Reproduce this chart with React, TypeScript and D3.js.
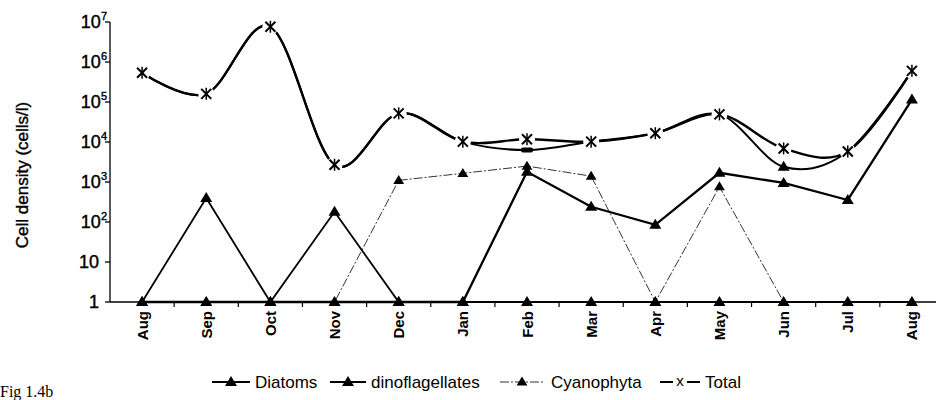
import React from "react";
import * as d3 from "d3";

const months = ["Aug", "Sep", "Oct", "Nov", "Dec", "Jan", "Feb", "Mar", "Apr", "May", "Jun", "Jul", "Aug"];
const diatoms = [1, 1, 1, 1, 1, 1, 1800, 240, 85, 1700, 950, 355, 115000];
const dinoflagellates = [1, 400, 1, 180, 1, 1, 1, 1, 1, 1, 1, 1, 1];
const cyanophyta = [1, 1, 1, 1, 1100, 1650, 2500, 1400, 1, 760, 1, 1, 1];
const total = [540000, 160000, 7600000, 2700, 52000, 10200, 11700, 10200, 16600, 49000, 6900, 5800, 600000];
const totalAlt = [540000, 160000, 7600000, 2700, 52000, 10200, 6300, 10200, 16600, 49000, 2400, 5800, 600000];
const totalAltMarkers = [null, null, null, null, null, null, "dash", null, null, null, "triangle", null, null];
const yTicks = [1, 10, 100, 1000, 10000, 100000, 1000000, 10000000];
const legendItems = ["Diatoms", "dinoflagellates", "Cyanophyta", "Total"];

const W = 936;
const H = 400;
const left = 110;
const right = 944;
const top = 22;
const bottom = 302;

const x = d3.scaleBand<number>().domain(d3.range(months.length)).range([left, right]).padding(0);
const y = d3.scaleLog().domain([1, 1e7]).range([bottom, top]);
const cx = (i: number) => (x(i) as number) + x.bandwidth() / 2;

const font = "Arial, 'Liberation Sans', sans-serif";
const narrow = "'Liberation Sans Narrow', 'Arial Narrow', Arial, 'Liberation Sans', sans-serif";

function Tri({ px, py, s = 1 }: { px: number; py: number; s?: number }) {
  const h = 10 * s;
  const w = 12 * s;
  return <path d={`M${px},${py - h * 0.6}L${px + w / 2},${py + h * 0.4}L${px - w / 2},${py + h * 0.4}Z`} fill="#000" />;
}

function Star({ px, py }: { px: number; py: number }) {
  const r = 5;
  return (
    <g stroke="#000" strokeWidth={2}>
      <line x1={px - r} y1={py - r} x2={px + r} y2={py + r} />
      <line x1={px - r} y1={py + r} x2={px + r} y2={py - r} />
      <line x1={px} y1={py - r - 1} x2={px} y2={py + r + 1} strokeWidth={1.5} />
    </g>
  );
}

export default function App() {
  const straight = d3.line<number>().x((_, i) => cx(i)).y((v) => y(v));
  const smooth = d3
    .line<number>()
    .x((_, i) => cx(i))
    .y((v) => y(v))
    .curve(d3.curveCardinal.tension(0));

  const supDigits = ["", "", "2", "3", "4", "5", "6", "7"];

  return (
    <svg width={W} height={H} style={{ position: "absolute", left: 0, top: 0, background: "#fff" }} fontFamily={font}>
      <rect width={W} height={H} fill="#fff" />
      {/* y axis */}
      <line x1={left} y1={top} x2={left} y2={bottom} stroke="#000" strokeWidth={1.3} />
      {yTicks.map((t, i) => (
        <g key={i}>
          <line x1={left - 5} x2={left} y1={y(t)} y2={y(t)} stroke="#000" strokeWidth={1.3} />
          <text x={i < 2 ? left - 11 : left - 3} y={y(t) + 6} textAnchor="end" fontSize={18} stroke="#000" strokeWidth={0.4}>
            {i === 0 ? "1" : i === 1 ? "10" : (
              <>
                10
                <tspan dy={-8} fontSize={11}>{supDigits[i]}</tspan>
              </>
            )}
          </text>
        </g>
      ))}
      {/* x axis */}
      <line x1={left} y1={bottom} x2={W} y2={bottom} stroke="#000" strokeWidth={1.3} />
      {d3.range(months.length).map((i) => (
        <line key={i} x1={(x(i) as number) + x.bandwidth()} x2={(x(i) as number) + x.bandwidth()} y1={bottom} y2={bottom + 5} stroke="#000" strokeWidth={1.2} />
      ))}
      {months.map((m, i) => (
        <text key={i} transform={`translate(${cx(i) + 5.5},${bottom + 9}) rotate(-90)`} textAnchor="end" fontSize={15} fontWeight={700}>
          {m}
        </text>
      ))}
      <text transform={`translate(28,175) rotate(-90)`} textAnchor="middle" fontSize={17} stroke="#000" strokeWidth={0.4}>
        Cell density (cells/l)
      </text>

      {/* series lines */}
      <path d={straight(cyanophyta) || ""} fill="none" stroke="#333" strokeWidth={1} strokeDasharray="9,2,2,2" />
      <path d={straight(dinoflagellates) || ""} fill="none" stroke="#000" strokeWidth={1.8} />
      <path d={straight(diatoms) || ""} fill="none" stroke="#000" strokeWidth={2.3} />
      <path d={smooth(totalAlt) || ""} fill="none" stroke="#000" strokeWidth={2} />
      <path d={smooth(total) || ""} fill="none" stroke="#000" strokeWidth={2.4} />

      {/* gaps around total markers */}
      {total.map((v, i) => (
        <circle key={i} cx={cx(i)} cy={y(v)} r={8} fill="#fff" />
      ))}

      {/* markers */}
      {cyanophyta.map((v, i) => <Tri key={"c" + i} px={cx(i)} py={y(v)} s={0.9} />)}
      {dinoflagellates.map((v, i) => <Tri key={"d" + i} px={cx(i)} py={y(v)} />)}
      {diatoms.map((v, i) => <Tri key={"a" + i} px={cx(i)} py={y(v)} />)}
      {totalAlt.map((v, i) =>
        totalAltMarkers[i] === "dash" ? (
          <rect key={"t" + i} x={cx(i) - 6} y={y(v) - 2.5} width={12} height={5} rx={2} fill="#000" />
        ) : totalAltMarkers[i] === "triangle" ? (
          <Tri key={"t" + i} px={cx(i)} py={y(v)} />
        ) : null
      )}
      {total.map((v, i) => <Star key={"s" + i} px={cx(i)} py={y(v)} />)}

      {/* legend */}
      <g fontSize={17} fontFamily={narrow}>
        <line x1={212} x2={250} y1={382} y2={382} stroke="#000" strokeWidth={2} />
        <Tri px={231} py={382} />
        <text x={255} y={388}>{legendItems[0]}</text>
        <line x1={330} x2={366} y1={382} y2={382} stroke="#000" strokeWidth={1.8} />
        <Tri px={348} py={382} />
        <text x={371} y={388}>{legendItems[1]}</text>
        <line x1={500} x2={545} y1={382} y2={382} stroke="#333" strokeWidth={1} strokeDasharray="9,2,2,2" />
        <Tri px={522} py={382} s={0.9} />
        <text x={551} y={388}>{legendItems[2]}</text>
        <line x1={660} x2={700} y1={382} y2={382} stroke="#000" strokeWidth={2} />
        <rect x={673} y={374} width={14} height={16} fill="#fff" />
        <text x={680} y={386} textAnchor="middle" fontSize={15}>x</text>
        <text x={705} y={388}>{legendItems[3]}</text>
      </g>
      <text x={0} y={397} fontFamily="'Liberation Serif', serif" fontSize={16}>Fig 1.4b</text>
    </svg>
  );
}
